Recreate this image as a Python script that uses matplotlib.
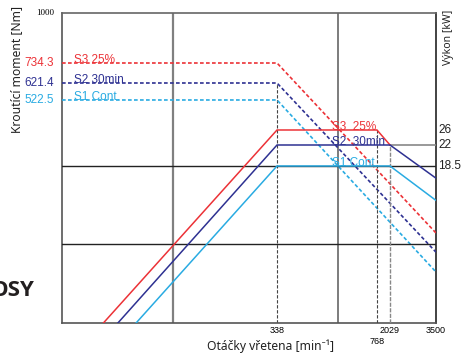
import numpy as np
import matplotlib.pyplot as plt
from matplotlib.transforms import blended_transform_factory

# spindle speed marks [min^-1]
speed_ticks = [338, 2029, 3500]
speed_knee = 1768

# torque curves (dashed) [Nm]
torque_speed = [30, 338, 3500]
s3_torque = [734.3, 734.3, 70.9]
s2_torque = [621.4, 621.4, 60.0]
s1_torque = [522.5, 522.5, 50.5]

# power curves (solid) [kW]
s3_power_speed = [47, 338, 1768, 2029]
s3_power = [3.6, 26, 26, 22]
s2_power_speed = [55, 338, 2029, 3500]
s2_power = [3.6, 22, 22, 16.8]
s1_power_speed = [67, 338, 2029, 3500]
s1_power = [3.6, 18.5, 18.5, 14.1]

curve_names = ['S3 25%', 'S2 30min', 'S1 Cont.']
curve_names_mid = ['S3  25%', 'S2  30min', 'S1 Cont.']
colors = ['#ec3237', '#2e3192', '#29abe2']

NARROW = ['Liberation Sans', 'DejaVu Sans']
SANS = ['Noto Sans', 'DejaVu Sans']


def piecewise_log(values, fracs):
    # the drawing is a schematic: log-like axis with hand placed marks
    lv = np.log10(values)

    def fwd(v):
        return np.interp(np.log10(np.clip(v, 1e-6, None)), lv, fracs)

    def inv(f):
        return 10 ** np.interp(f, fracs, lv)
    return fwd, inv


x_scale = piecewise_log([30, 100, 338, 1000, 1768, 2029, 3500],
                        [0, 0.2968, 0.5749, 0.7380, 0.8422, 0.8770, 1.0])
t_scale = piecewise_log([32.5, 50.5, 70.9, 522.5, 621.4, 734.3, 1000],
                        [0, 0.1645, 0.2903, 0.7194, 0.7742, 0.8387, 1.0])
p_scale = piecewise_log([3.6, 10, 18.5, 22, 26, 100],
                        [0, 0.2548, 0.5065, 0.5742, 0.6226, 1.0])

fig = plt.figure(figsize=(4.62, 3.56), dpi=100)
ax = fig.add_axes([62 / 462, 33 / 356, 374 / 462, 310 / 356])
ax.set_xscale('function', functions=x_scale)
ax.set_yscale('function', functions=t_scale)
ax.set_xlim(30, 3500)
ax.set_ylim(32.5, 1000)

ax2 = ax.twinx()
ax2.set_yscale('function', functions=p_scale)
ax2.set_ylim(3.6, 100)

for a in (ax, ax2):
    a.set_xticks([])
    a.set_yticks([])
    a.tick_params(length=0)
    for s in a.spines.values():
        s.set_visible(False)

for side, col in [('left', '#555555'), ('bottom', '#555555'),
                  ('top', '#666666'), ('right', '#222222')]:
    ax.spines[side].set_visible(True)
    ax.spines[side].set_color(col)
    ax.spines[side].set_linewidth(1.2)

# grid and reference lines
ax.axvline(100, color='#808080', lw=1.6, zorder=1)
ax.axvline(1000, color='#666666', lw=1.2, zorder=1)
ax2.axhline(18.5, color='#222222', lw=1.0, zorder=1)
ax2.axhline(10, color='#222222', lw=1.0, zorder=1)
ax.plot([338, 338], [32.5, 621.4], color='#444444', lw=0.8,
        ls=(0, (3, 1.5)), zorder=1)
ax2.plot([speed_knee, speed_knee], [3.6, 26], color='#444444', lw=0.8,
         ls=(0, (3, 1.5)), zorder=1)
ax2.plot([2029, 2029], [3.6, 22], color='#888888', lw=1.0,
         ls=(0, (3, 1)), zorder=1)
ax2.plot([2029, 3500], [22, 22], color='#888888', lw=1.2, zorder=1)

# torque (dashed)
for t, c in zip([s3_torque, s2_torque, s1_torque], colors):
    ax.plot(torque_speed, t, color=c, lw=1.2, ls=(0, (2.2, 1.4)), zorder=3)

# power (solid)
for sp, p, c in zip([s3_power_speed, s2_power_speed, s1_power_speed],
                    [s3_power, s2_power, s1_power], colors):
    ax2.plot(sp, p, color=c, lw=1.1, zorder=4, solid_joinstyle='miter')

# labels
ty = blended_transform_factory(ax.transAxes, ax.transData)
py = blended_transform_factory(ax2.transAxes, ax2.transData)
tx = blended_transform_factory(ax.transData, ax.transAxes)

for t, name, c in zip([s3_torque, s2_torque, s1_torque], curve_names, colors):
    ax.text(-0.021, t[0], f'{t[0]:.1f}', transform=ty, ha='right',
            va='center', color=c, fontsize=8.5, family=NARROW)
    ax.text(0.032, t[0], name, transform=ty, ha='left', va='baseline',
            color=c, fontsize=8.5, family=NARROW)
ax.text(-0.021, 1000, '1000', transform=ty, ha='right', va='center',
        fontsize=6.5, family=['Liberation Serif', 'DejaVu Serif'])

for p, name, c in zip([s3_power, s2_power, s1_power], curve_names_mid, colors):
    ax2.text(0.722, p[1], name, transform=py, ha='left', va='baseline',
             color=c, fontsize=8.5, family=NARROW, zorder=5)
    ax2.text(1.006, p[1], f'{p[1]:g}', transform=py, ha='left', va='center',
             color='#222222', fontsize=8.5, family=NARROW)

for s in speed_ticks:
    ax.text(s, -0.023, str(s), transform=tx, ha='center', va='center',
            fontsize=6.5, family=NARROW)
ax.text(speed_knee, -0.061, '768', transform=tx, ha='center', va='center',
        fontsize=6.5, family=NARROW)

fig.text(271 / 462, 1 - 346 / 356, 'Otáčky vřetena [min⁻¹]', ha='center',
         va='center', fontsize=8.7, family=SANS, color='#222222')
fig.text(17 / 462, 1 - 69 / 356, 'Kroutící moment [Nm]', ha='center',
         va='center', rotation=90, fontsize=8.7, family=SANS, color='#222222')
fig.text(449 / 462, 1 - 37 / 356, 'Výkon [kW]', ha='center', va='center',
         rotation=90, fontsize=7.5, family=SANS, color='#222222')
fig.text(35 / 462, 1 - 290 / 356, 'OSY', ha='right', va='center',
         fontsize=16, weight='bold', family=['Open Sans', 'DejaVu Sans'],
         color='#231f20')

fig.savefig('out.png', dpi=100)
